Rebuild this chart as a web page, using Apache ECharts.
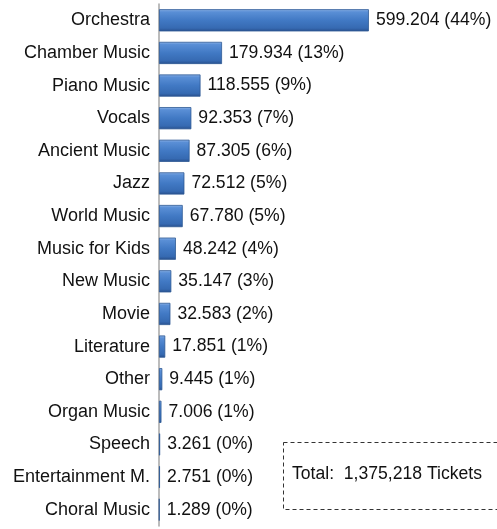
<!DOCTYPE html>
<html>
<head>
<meta charset="utf-8">
<style>
  html, body { margin: 0; padding: 0; background: #fff; }
  #chart { width: 497px; height: 529px; }
</style>
<script src="https://cdn.jsdelivr.net/npm/echarts@6/dist/echarts.min.js"></script>
</head>
<body>
<div id="chart"></div>
<script>
// Ticket sales per genre (in thousands), top to bottom
const genres = [
  'Orchestra', 'Chamber Music', 'Piano Music', 'Vocals', 'Ancient Music',
  'Jazz', 'World Music', 'Music for Kids', 'New Music', 'Movie',
  'Literature', 'Other', 'Organ Music', 'Speech', 'Entertainment M.', 'Choral Music'
];
const tickets = [
  599.204, 179.934, 118.555, 92.353, 87.305,
  72.512, 67.780, 48.242, 35.147, 32.583,
  17.851, 9.445, 7.006, 3.261, 2.751, 1.289
];
const shares = [
  '44%', '13%', '9%', '7%', '6%',
  '5%', '5%', '4%', '3%', '2%',
  '1%', '1%', '1%', '0%', '0%', '0%'
];
const totalText = 'Total:  1,375,218 Tickets';

const FONT = "'Liberation Sans', Arial, sans-serif";

const chart = echarts.init(document.getElementById('chart'), null, { renderer: 'canvas' });

// bevelled blue fill: light top edge, darker bottom edge
const barFill = new echarts.graphic.LinearGradient(0, 0, 0, 1, [
  { offset: 0, color: '#8fb4e8' },
  { offset: 0.12, color: '#5a8fd6' },
  { offset: 0.5, color: '#4179c4' },
  { offset: 0.85, color: '#366ab2' },
  { offset: 1, color: '#284f8c' }
]);

chart.setOption({
  animation: false,
  backgroundColor: '#ffffff',
  grid: { left: 159, top: 4, width: 339, bottom: 3, containLabel: false },
  xAxis: {
    type: 'value',
    min: 0,
    max: 965,
    show: false
  },
  yAxis: {
    type: 'category',
    inverse: true,
    data: genres,
    axisLine: { show: true, lineStyle: { color: '#a6a6a6', width: 1.5 } },
    axisTick: { show: false },
    axisLabel: {
      color: '#111',
      fontFamily: FONT,
      fontSize: 18,
      margin: 9
    }
  },
  series: [{
    type: 'bar',
    data: tickets,
    barCategoryGap: '32%',
    itemStyle: {
      color: barFill,
      borderColor: '#2d5994',
      borderWidth: 0.8
    },
    label: {
      show: true,
      position: 'right',
      distance: 7,
      color: '#111',
      fontFamily: FONT,
      fontSize: 17.6,
      formatter: (p) => tickets[p.dataIndex].toFixed(3) + ' (' + shares[p.dataIndex] + ')'
    }
  }],
  graphic: [{
    type: 'rect',
    left: 281,
    top: 440,
    shape: { width: 260, height: 67 },
    style: { fill: 'none', stroke: '#333', lineWidth: 1, lineDash: [4, 3] },
    silent: true
  }, {
    type: 'text',
    left: 292,
    top: 465,
    style: { text: totalText, fill: '#111', font: '17.6px ' + FONT }
  }]
});
</script>
</body>
</html>
